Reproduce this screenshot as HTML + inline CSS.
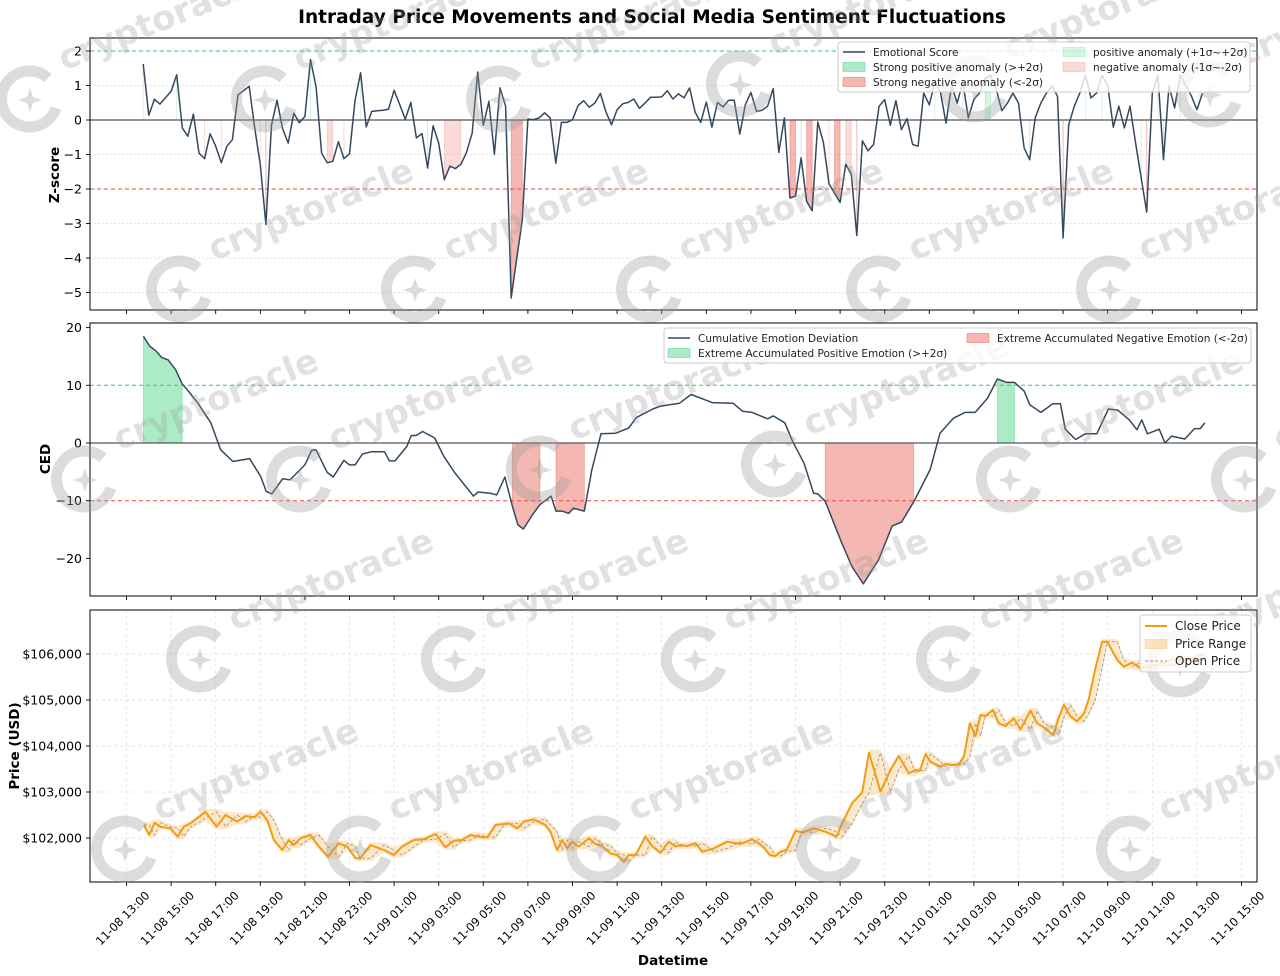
<!DOCTYPE html>
<html><head><meta charset="utf-8">
<style>
html,body{margin:0;padding:0;background:#fff;}
svg{display:block;font-family:"DejaVu Sans","Liberation Sans",sans-serif;}
</style></head>
<body>
<svg id="chart" width="1280" height="976" viewBox="0 0 1280 976" xmlns="http://www.w3.org/2000/svg">
<rect x="0" y="0" width="1280" height="976" fill="#fff"/>
<text x="652" y="23" text-anchor="middle" font-size="18.5" font-weight="bold" fill="#000">Intraday Price Movements and Social Media Sentiment Fluctuations</text>
<g id="p1"></g>
<g id="p2"></g>
<g id="p3"></g>
<g id="wm"></g>
<g id="legends"></g>
<g id="xlabels"></g>
<text x="673" y="965" text-anchor="middle" font-size="13.5" font-weight="bold">Datetime</text>
<text transform="translate(59,175) rotate(-90)" text-anchor="middle" font-size="13.5" font-weight="bold">Z-score</text>
<text transform="translate(50,459) rotate(-90)" text-anchor="middle" font-size="13.5" font-weight="bold">CED</text>
<text transform="translate(19,746) rotate(-90)" text-anchor="middle" font-size="13.5" font-weight="bold">Price (USD)</text>
</svg>
<script>
// ---------- data ----------
const xTickLabels = ["11-08 13:00","11-08 15:00","11-08 17:00","11-08 19:00","11-08 21:00","11-08 23:00","11-09 01:00","11-09 03:00","11-09 05:00","11-09 07:00","11-09 09:00","11-09 11:00","11-09 13:00","11-09 15:00","11-09 17:00","11-09 19:00","11-09 21:00","11-09 23:00","11-10 01:00","11-10 03:00","11-10 05:00","11-10 07:00","11-10 09:00","11-10 11:00","11-10 13:00","11-10 15:00"];
const xTickHours = [0,2,4,6,8,10,12,14,16,18,20,22,24,26,28,30,32,34,36,38,40,42,44,46,48,50];
const emoStartHour = 0.75;
const emoStepHours = 0.25;
const emoScores = [1.62,0.14,0.6,0.46,0.65,0.83,1.31,-0.23,-0.47,0.17,
-0.96,-1.12,-0.4,-0.76,-1.24,-0.76,-0.57,0.73,0.85,0.98,
-0.23,-1.3,-3.03,-0.15,0.57,-0.25,-0.67,0.2,-0.08,0.1,
1.75,0.96,-0.96,-1.24,-1.2,-0.63,-1.12,-0.98,0.58,1.37,
-0.2,0.25,0.27,0.28,0.31,0.86,0.45,0.02,0.51,-0.52,
-0.39,-1.39,-0.17,-0.67,-1.73,-1.34,-1.41,-1.28,-0.93,-0.38,
1.39,-0.15,0.54,-0.99,0.93,0.40,-5.16,-4.0,-2.9,0.03,
0.01,0.06,0.21,0.06,-1.25,-0.07,-0.07,0.01,0.42,0.56,
0.37,0.49,0.77,0.23,-0.14,0.30,0.47,0.51,0.61,0.34,
0.49,0.66,0.66,0.67,0.85,0.61,0.76,0.64,0.93,0.23,
-0.07,0.52,-0.21,0.51,0.38,0.57,0.57,-0.41,0.44,0.80,
0.25,0.28,0.40,0.91,-0.94,0.06,-2.26,-2.21,-1.10,-2.36,
-2.63,-0.06,-0.65,-1.85,-2.12,-2.39,-1.28,-1.57,-3.35,-0.60,
-0.89,-0.71,0.40,0.59,-0.15,0.56,-0.28,0.04,-0.71,-0.76,
0.78,0.44,1.1,0.8,-0.09,1.0,0.49,1.1,0.06,0.6,
0.78,1.2,1.3,0.9,0.27,0.49,0.78,0.49,-0.81,-1.15,
0.06,0.49,0.78,0.98,0.69,-3.42,-0.14,0.40,0.78,1.3,
0.64,0.78,1.3,1.0,-0.21,0.40,-0.23,0.40,-0.67,-1.68,
-2.67,0.78,1.3,-1.15,1.0,0.35,1.3,1.0,0.7,0.30,
0.78];
const zTicks = [2,1,0,-1,-2,-3,-4,-5];
const cedHours = [0.76,1.04,1.34,1.57,1.87,2.2,2.5,2.73,3.2,3.78,4.22,4.77,5.52,6.02,6.27,6.52,7.0,7.33,8.0,8.3,8.5,9.0,9.27,9.75,10.0,10.25,10.58,11.0,11.57,11.79,12.04,12.57,12.77,12.99,13.28,13.82,14.23,14.73,15.56,15.77,16.3,16.6,16.97,17.3,17.55,17.8,18.21,18.54,19.04,19.26,19.54,19.83,20.04,20.53,20.87,21.28,21.94,22.52,22.86,23.6,
23.95,24.8,25.32,26.27,27.2,27.63,28.06,28.75,29.0,29.52,29.87,30.38,30.81,31.0,31.33,32.02,32.53,33.04,33.73,34.33,34.76,35.3,36.04,36.48,37.08,37.6,38.06,38.62,39.05,39.48,39.82,40.25,40.51,41.0,41.54,41.88,42.1,42.56,43.0,43.51,44.03,44.45,44.97,45.31,45.53,45.78,46.31,46.57,46.86,47.46,47.89,48.15,48.36];
const cedValues = [18.5,16.8,15.9,14.85,14.4,12.7,10.2,9.2,6.9,3.5,-1.16,-3.2,-2.7,-5.8,-8.4,-8.8,-6.2,-6.4,-3.8,-1.3,-1.2,-5.1,-5.9,-3.0,-3.8,-3.8,-1.9,-1.5,-1.5,-3.1,-3.1,-0.6,1.3,1.3,2.0,0.87,-2.3,-5.2,-9.2,-8.5,-8.7,-9.0,-5.9,-10.9,-14.2,-14.9,-12.4,-10.7,-9.2,-11.8,-11.8,-12.2,-11.3,-11.8,-4.6,1.6,1.7,2.6,4.4,5.9,
6.4,6.9,8.4,7.0,6.9,5.5,5.3,4.2,4.7,3.5,0.3,-3.5,-8.7,-8.8,-10.1,-16.8,-21.4,-24.4,-20.2,-14.4,-13.7,-10.2,-4.6,1.7,4.3,5.3,5.3,7.8,11.1,10.5,10.5,9.0,6.6,5.3,6.8,6.8,2.4,0.6,1.6,1.6,5.9,5.7,4.0,2.3,4.0,1.6,2.4,0.0,1.2,0.7,2.5,2.5,3.5];
const cedTicks = [20,10,0,-10,-20];
const priceHours = [0.78,1.02,1.26,1.52,1.97,2.3,2.57,2.87,3.17,3.54,4.04,4.44,4.96,5.34,5.74,6.01,6.31,6.61,6.98,7.28,7.5,7.8,8.25,8.63,9.03,9.52,9.9,10.27,10.49,10.94,11.54,11.99,12.36,12.89,13.33,13.86,14.3,14.68,15.05,15.43,15.8,16.17,16.55,16.92,
17.14,17.52,17.82,18.26,18.79,19.01,19.31,19.54,19.76,19.99,20.28,20.73,21.03,21.33,21.7,22.0,22.3,22.52,22.83,23.27,23.57,23.95,24.32,24.62,24.84,25.14,25.52,25.82,26.34,26.94,27.54,28.06,28.35,28.58,28.85,29.1,29.33,29.6,30.0,30.3,30.82,31.35,
31.84,32.09,32.54,32.99,33.29,33.81,34.26,34.63,35.08,35.38,35.58,35.83,36.05,36.5,36.73,37.03,37.32,37.55,37.82,38.07,38.3,38.52,38.85,39.12,39.42,39.79,40.09,40.54,40.84,41.14,41.56,41.81,42.03,42.33,42.63,42.93,43.15,43.45,43.75,43.98,44.43,44.72,45.1,45.47,46.0,46.5,47.0,47.5,48.0,48.36];
const closePrices = [102283,102065,102333,102246,102210,102028,102246,102320,102428,102572,102246,102500,102355,102478,102450,102572,102391,101957,101739,101957,101848,101993,102065,101812,101594,101884,101812,101558,101558,101848,101739,101630,101812,101957,101971,102087,101797,101942,101957,102065,102028,102014,102283,102304,
102320,102210,102355,102406,102283,102138,101739,101957,101775,101920,101812,101993,101870,101826,101667,101630,101486,101630,101630,102028,101826,101681,101920,101812,101848,101826,101884,101703,101775,101920,101870,101971,101884,101797,101630,101609,101703,101739,102159,102116,102210,102138,
102028,102319,102754,102986,103855,103007,103478,103783,103406,103478,103464,103826,103659,103551,103609,103587,103600,103768,104493,104217,104674,104652,104783,104493,104435,104601,104362,104768,104493,104406,104239,104623,104891,104645,104536,104703,105014,105688,106268,106268,105870,105725,105812,105688,105750,105800,105900,105850,105950,106000];
const priceTicks = [106000,105000,104000,103000,102000];
const priceTickLabels = ["$106,000","$105,000","$104,000","$103,000","$102,000"];

// ---------- helpers ----------
const NS="http://www.w3.org/2000/svg";
function mk(tag, attrs, parent){const e=document.createElementNS(NS,tag);for(const k in attrs)e.setAttribute(k,attrs[k]);parent.appendChild(e);return e;}
const AX_L=90,AX_R=1257;
function X(h){return 126.5+h*22.3;}
const P1={top:38,bot:310}, P2={top:323,bot:596}, P3={top:610,bot:882};
function y1(v){return 120-34.5*v;}
function y2(v){return 443-5.77*v;}
function y3(p){return 838-0.046*(p-102000);}
const LINE="#34495e";

function frame(g,P,name){
  const r=mk('rect',{x:AX_L,y:P.top,width:AX_R-AX_L,height:P.bot-P.top,fill:'none',stroke:'#000','stroke-width':1},g);
  
  
  xTickHours.forEach((h,i)=>{
    const t=mk('line',{x1:X(h),x2:X(h),y1:P.bot,y2:P.bot+4,stroke:'#000','stroke-width':0.9},g);
    
    
  });
}
function yTicks(g,P,ticks,labels,fy,name,grid,dash){
  ticks.forEach((v,i)=>{
    const y=fy(v);
    if(grid){const gl=mk('line',{x1:AX_L,x2:AX_R,y1:y,y2:y,stroke:'#ddd','stroke-width':0.7,'stroke-dasharray':dash||'2,2'},g);
      
      }
    const t=mk('line',{x1:AX_L-4,x2:AX_L,y1:y,y2:y,stroke:'#000','stroke-width':0.9},g);
    
    
    const tx=mk('text',{x:AX_L-8,y:y+4.5,'text-anchor':'end','font-size':12.5,fill:'#000'},g);
    tx.textContent=labels[i];
    
    
  });
}
function hline(g,y,color,dash,w,name){
  const l=mk('line',{x1:AX_L,x2:AX_R,y1:y,y2:y,stroke:color,'stroke-width':w||1,'stroke-dasharray':dash||'none'},g);
  
  
}
function fillRuns(g,xs,vs,fy,cond,color,op,name){
  let i=0;
  while(i<vs.length){
    if(!cond(vs[i])){i++;continue;}
    let j=i; while(j+1<vs.length && cond(vs[j+1])) j++;
    if(j===i){
      const l=mk('line',{x1:xs[i],x2:xs[i],y1:fy(0),y2:fy(vs[i]),stroke:color,'stroke-opacity':op,'stroke-width':1},g);
      
      
    } else {
      let d='M'+xs[i]+','+fy(0);
      for(let k=i;k<=j;k++) d+=' L'+xs[k]+','+fy(vs[k]);
      d+=' L'+xs[j]+','+fy(0)+' Z';
      const p=mk('path',{d:d,fill:color,'fill-opacity':op,stroke:color,'stroke-opacity':op,'stroke-width':0.8},g);
      
      
    }
    i=j+1;
  }
}
function polyline(g,xs,vs,fy,color,w,name,dash){
  const pts=xs.map((x,i)=>x.toFixed(1)+','+fy(vs[i]).toFixed(1)).join(' ');
  const p=mk('polyline',{points:pts,fill:'none',stroke:color,'stroke-width':w,'stroke-linejoin':'round','stroke-dasharray':dash||'none'},g);
  
  
  return p;
}

// ---------- panel 1 ----------
const g1=document.getElementById('p1');
yTicks(g1,P1,zTicks,zTicks.map(v=>v<0?'\u2212'+(-v):''+v),y1,'zscore',true,'2,2');
hline(g1,y1(2),'#2ecc71','4,3',1,'strong-positive-threshold');
hline(g1,y1(-2),'#e74c3c','4,3',1,'strong-negative-threshold');
const emoX=emoScores.map((v,i)=>X(emoStartHour+i*emoStepHours));
fillRuns(g1,emoX,emoScores,y1,v=>v>2,'#2ecc71',0.4,'strong-positive-anomaly');
fillRuns(g1,emoX,emoScores,y1,v=>v>1&&v<=2,'#2ecc71',0.2,'positive-anomaly');
fillRuns(g1,emoX,emoScores,y1,v=>v<-2,'#e74c3c',0.4,'strong-negative-anomaly');
fillRuns(g1,emoX,emoScores,y1,v=>v<-1&&v>=-2,'#e74c3c',0.2,'negative-anomaly');
hline(g1,y1(0),'#555',null,1.3,'zscore-zero-line');
polyline(g1,emoX,emoScores,y1,LINE,1.5,'emotional-score-line');
frame(g1,P1,'zscore');

// ---------- panel 2 ----------
const g2=document.getElementById('p2');
yTicks(g2,P2,cedTicks,cedTicks.map(v=>v<0?'\u2212'+(-v):''+v),y2,'ced',false);
hline(g2,y2(10),'#2ecc71','4,3',1,'ced-positive-threshold');
hline(g2,y2(-10),'#e74c3c','4,3',1,'ced-negative-threshold');
const cedX=cedHours.map(X);
fillRuns(g2,cedX,cedValues,y2,v=>v>10,'#2ecc71',0.4,'extreme-positive-emotion');
fillRuns(g2,cedX,cedValues,y2,v=>v<-10,'#e74c3c',0.4,'extreme-negative-emotion');
hline(g2,y2(0),'#555',null,1.3,'ced-zero-line');
polyline(g2,cedX,cedValues,y2,LINE,1.5,'ced-line');
frame(g2,P2,'ced');

// ---------- panel 3 ----------
const g3=document.getElementById('p3');
xTickHours.forEach(h=>{
  const gl=mk('line',{x1:X(h),x2:X(h),y1:P3.top,y2:P3.bot,stroke:'#ddd','stroke-width':0.7,'stroke-dasharray':'3,3'},g3);
  
  
});
yTicks(g3,P3,priceTicks,priceTickLabels,y3,'price',true,'3,3');
const pX=priceHours.map(X);
const openPrices=closePrices.map((c,i)=>i===0?c:closePrices[i-1]);
const bandPad=60;
let bandTopPath='',bandBotPath='';
closePrices.forEach((c,i)=>{
  const hi=Math.max(c,openPrices[i])+bandPad;
  bandTopPath+=(i?' L':'M')+pX[i]+','+y3(hi);
});
for(let i=closePrices.length-1;i>=0;i--){
  const lo=Math.min(closePrices[i],openPrices[i])-bandPad;
  bandBotPath+=' L'+pX[i]+','+y3(lo);
}
const band=mk('path',{d:bandTopPath+bandBotPath+' Z',fill:'#f39c12','fill-opacity':0.22,stroke:'none'},g3);


polyline(g3,pX,openPrices,y3,'#999',0.9,'open-price-line','3,2');
polyline(g3,pX,closePrices,y3,'#f39c12',2,'close-price-line');
frame(g3,P3,'price');

// ---------- x tick labels ----------
const gx=document.getElementById('xlabels');
xTickHours.forEach((h,i)=>{
  const t=mk('text',{transform:'translate('+(X(h)-1)+',921) rotate(-45)','text-anchor':'middle','font-size':11.5,fill:'#000'},gx);
  t.textContent=xTickLabels[i];
  
  
});

// ---------- legends ----------
const gl=document.getElementById('legends');
function legendBox(x,y,w,h,name){const r=mk('rect',{x:x,y:y,width:w,height:h,rx:3,fill:'#fff','fill-opacity':0.8,stroke:'#ccc','stroke-width':1},gl);
  
  }
function legLine(x,y,color,dash,w,label,fs,name){
  const l=mk('line',{x1:x,x2:x+22,y1:y,y2:y,stroke:color,'stroke-width':w,'stroke-dasharray':dash||'none'},gl);
  
  
  const t=mk('text',{x:x+30,y:y+4,'font-size':fs,fill:'#222'},gl);t.textContent=label;
  
  
}
function legPatch(x,y,color,op,label,fs,name){
  const r=mk('rect',{x:x,y:y-4.5,width:22,height:9,fill:color,'fill-opacity':op,stroke:color,'stroke-opacity':op},gl);
  
  
  const t=mk('text',{x:x+30,y:y+4,'font-size':fs,fill:'#222'},gl);t.textContent=label;
  
  
}
legendBox(838,42,412,50,'zscore-legend');
legLine(843,52,LINE,null,1.5,'Emotional Score',10.5,'legend-emotional-score');
legPatch(843,67,'#2ecc71',0.4,'Strong positive anomaly (>+2σ)',10.5,'legend-strong-positive');
legPatch(843,82,'#e74c3c',0.4,'Strong negative anomaly (<-2σ)',10.5,'legend-strong-negative');
legPatch(1063,52,'#2ecc71',0.2,'positive anomaly (+1σ~+2σ)',10.5,'legend-positive-anomaly');
legPatch(1063,67,'#e74c3c',0.2,'negative anomaly (-1σ~-2σ)',10.5,'legend-negative-anomaly');
legendBox(664,328,587,35,'ced-legend');
legLine(668,338,LINE,null,1.5,'Cumulative Emotion Deviation',10.5,'legend-ced');
legPatch(668,353,'#2ecc71',0.4,'Extreme Accumulated Positive Emotion (>+2σ)',10.5,'legend-extreme-positive');
legPatch(967,338,'#e74c3c',0.4,'Extreme Accumulated Negative Emotion (<-2σ)',10.5,'legend-extreme-negative');
legendBox(1140,615,111,57,'price-legend');
legLine(1145,626,'#f39c12',null,2,'Close Price',12,'legend-close-price');
legPatch(1145,644,'#f39c12',0.25,'Price Range',12,'legend-price-range');
legLine(1145,661,'#999','3,2',0.9,'Open Price',12,'legend-open-price');

// ---------- watermarks ----------
const gw=document.getElementById('wm');
const wmPositions=[[30,100],[265,100],[500,100],[740,85],[975,90],[1210,95],[180,290],[415,290],[650,290],[880,290],[1110,290],[85,480],[300,480],[540,470],[775,465],[1010,480],[1245,480],[200,660],[455,660],[695,660],[950,660],[1180,665],[125,850],[360,850],[600,850],[830,850],[1130,850]];
wmPositions.forEach(p=>{
  const wx=p[0], wy=p[1];
  const c=mk('path',{d:'M'+(wx+18)+','+(wy-22)+' A28,28 0 1,0 '+(wx+26)+','+(wy+8),fill:'none',stroke:'#9a9a9a','stroke-opacity':0.35,'stroke-width':11},gw);
  
  
  const s=mk('path',{d:'M'+wx+','+(wy-12)+' L'+(wx+3)+','+(wy-3)+' L'+(wx+12)+','+wy+' L'+(wx+3)+','+(wy+3)+' L'+wx+','+(wy+12)+' L'+(wx-3)+','+(wy+3)+' L'+(wx-12)+','+wy+' L'+(wx-3)+','+(wy-3)+' Z',fill:'#9a9a9a','fill-opacity':0.35},gw);
  
  
  const t=mk('text',{transform:'translate('+(wx+135)+','+(wy-70)+') rotate(-22)','text-anchor':'middle','font-size':34,'font-weight':'bold',fill:'#9a9a9a','fill-opacity':0.3},gw);
  t.textContent='cryptoracle';
  
  
});
</script>
</body></html>
